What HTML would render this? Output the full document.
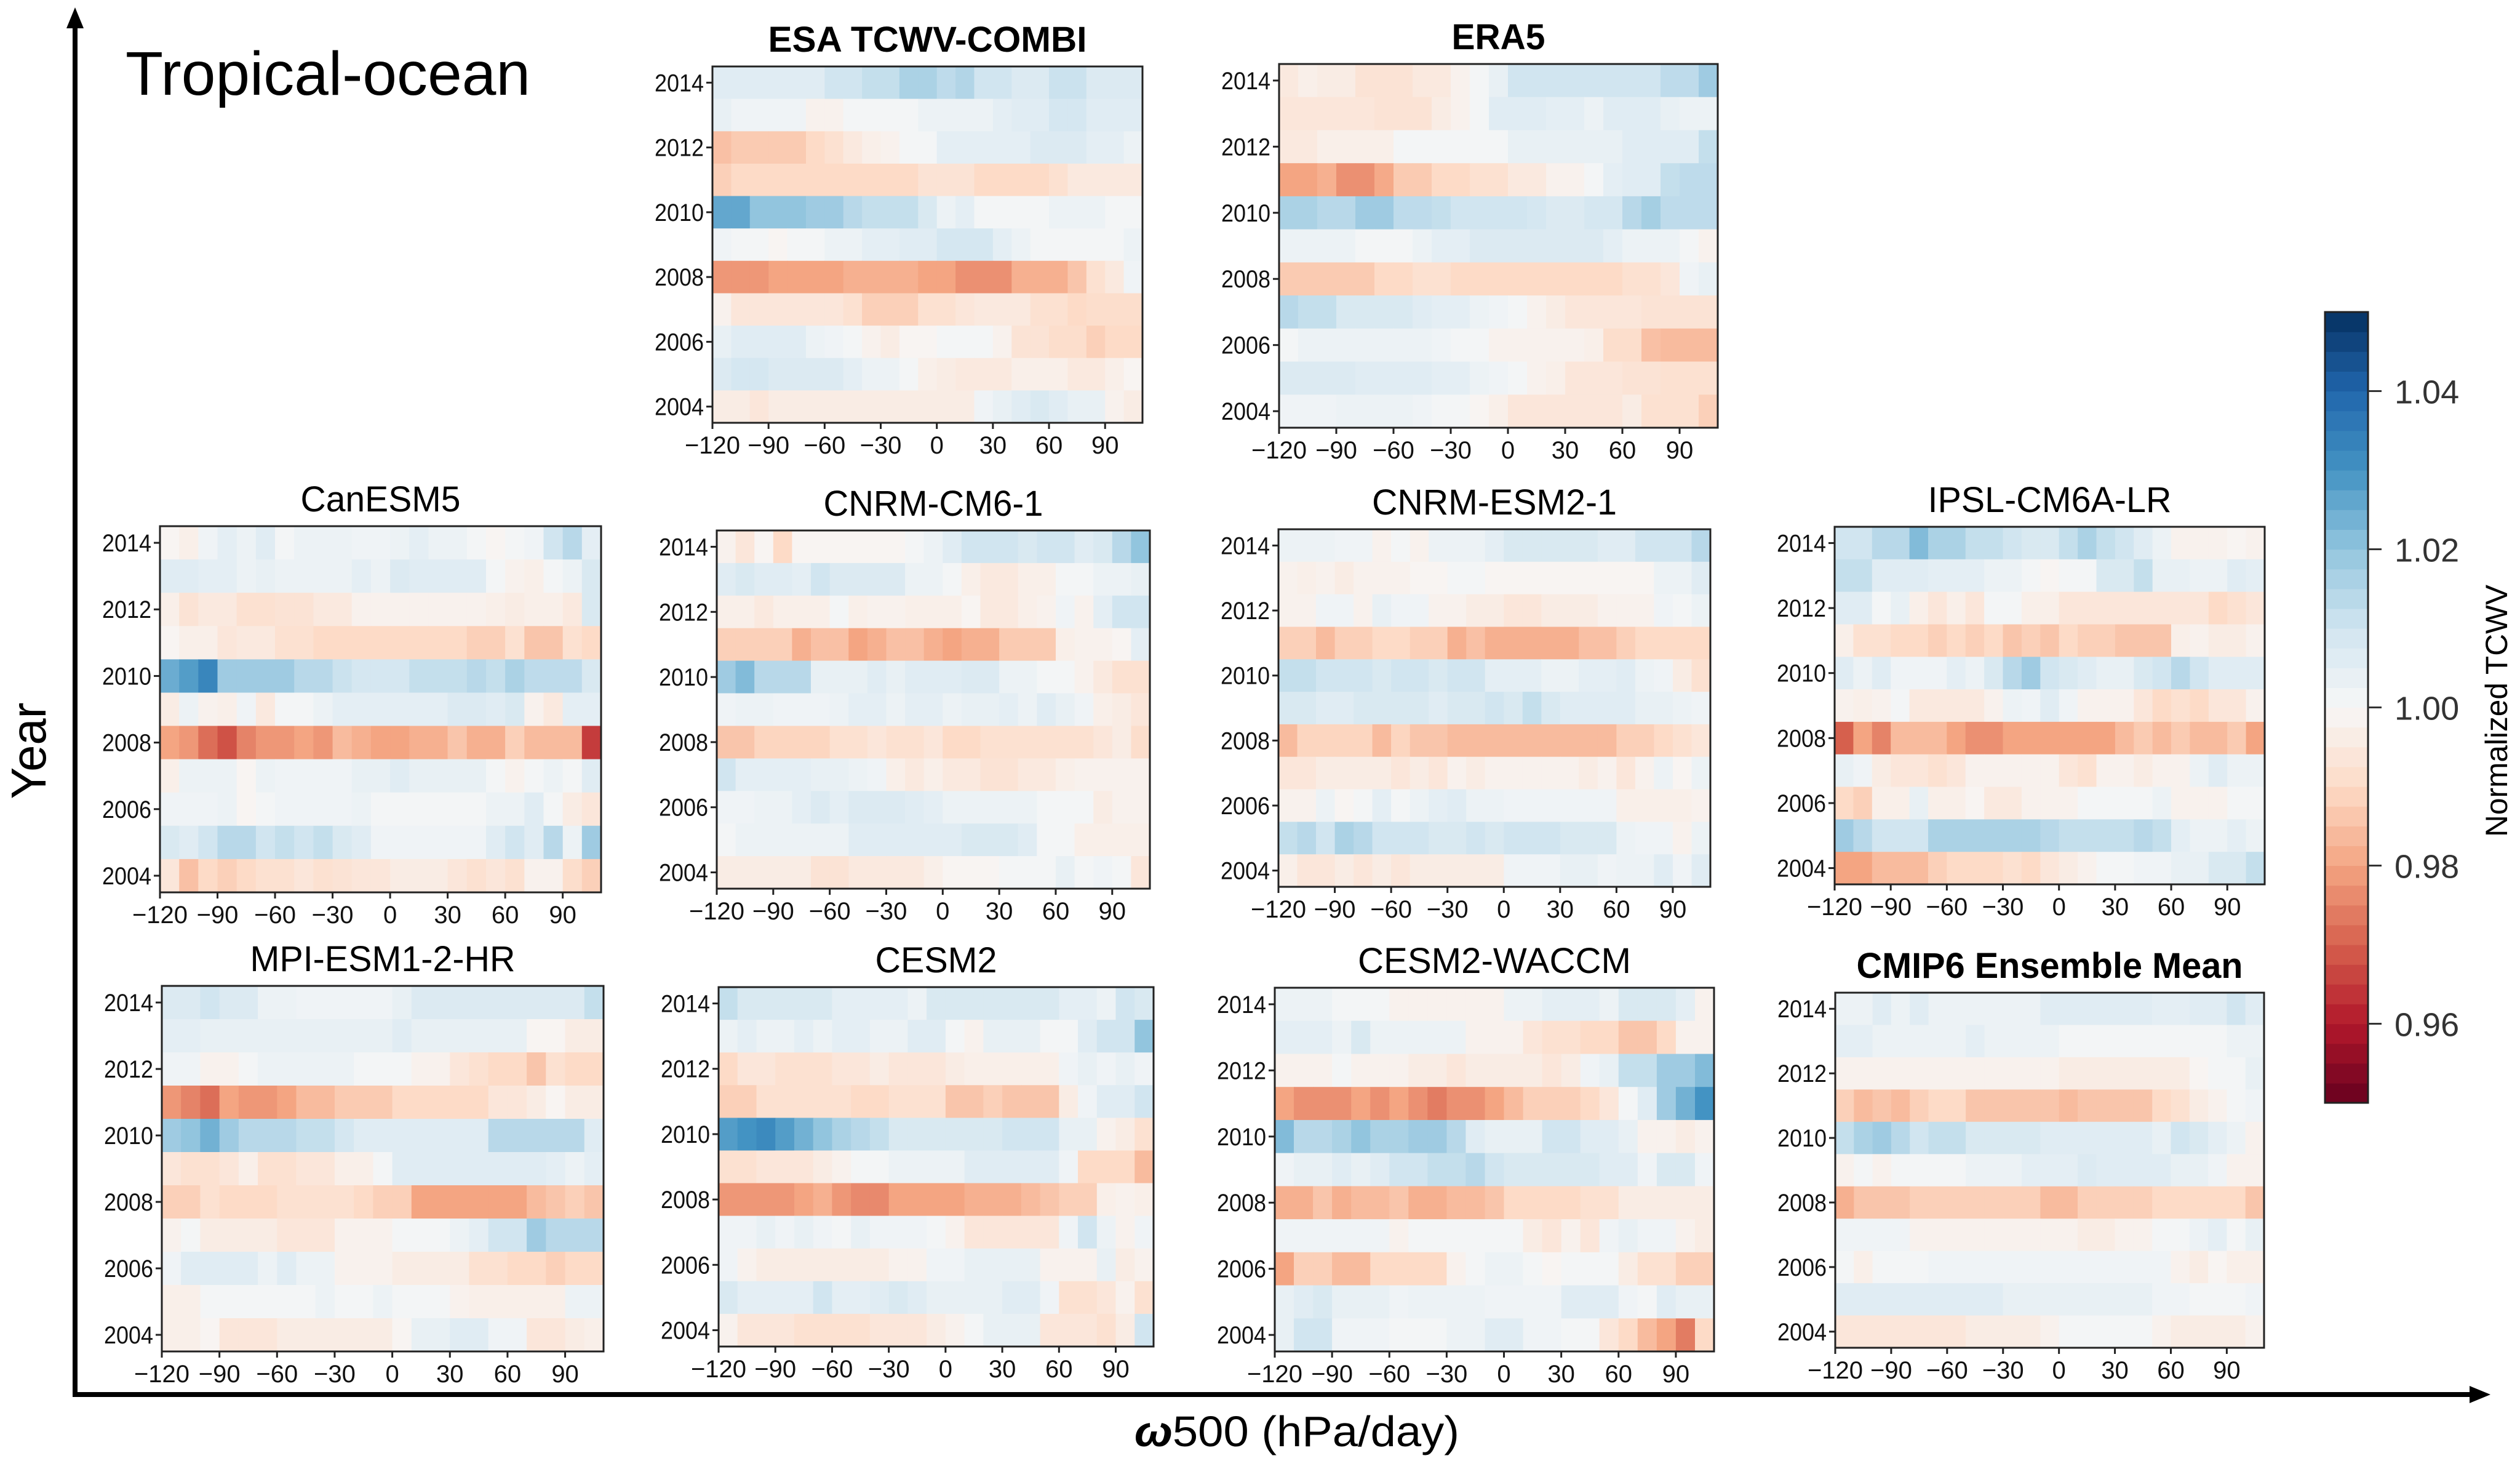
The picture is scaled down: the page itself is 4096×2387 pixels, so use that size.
<!DOCTYPE html>
<html><head><meta charset="utf-8"><style>
html,body{margin:0;padding:0;background:#fff;}
svg{display:block;}
text{font-family:"Liberation Sans",sans-serif;}
</style></head><body>
<svg id="fig" width="4096" height="2387" viewBox="0 0 4096 2387" xmlns="http://www.w3.org/2000/svg">
<rect x="0" y="0" width="4096" height="2387" fill="#fff"/>
<text x="204" y="154" font-size="100" textLength="658" lengthAdjust="spacingAndGlyphs">Tropical-ocean</text>
<line x1="122" y1="2266" x2="122" y2="40" stroke="#000" stroke-width="8"/>
<polygon points="122,12 108,46 136,46" fill="#000"/>
<line x1="118" y1="2266" x2="4020" y2="2266" stroke="#000" stroke-width="8"/>
<polygon points="4048,2266 4014,2252 4014,2280" fill="#000"/>
<text transform="translate(74,1220) rotate(-90)" text-anchor="middle" font-size="80" textLength="157" lengthAdjust="spacingAndGlyphs">Year</text>
<text x="1844" y="2350" font-size="70" textLength="528" lengthAdjust="spacingAndGlyphs"><tspan font-weight="bold" font-style="italic">ω</tspan>500 (hPa/day)</text>
<g id="plots"></g>
<g id="cbar"></g>
</svg>
<script>
const years = [2014,2013,2012,2011,2010,2009,2008,2007,2006,2005,2004];
const omegaBins = [-120,-110,-100,-90,-80,-70,-60,-50,-40,-30,-20,-10,0,10,20,30,40,50,60,70,80,90,100];
const xTicks = [-120,-90,-60,-30,0,30,60,90];
const yTicks = [2014,2012,2010,2008,2006,2004];
const cbarTicks = [1.04,1.02,1.00,0.98,0.96];
// values: (normalized TCWV - 1) * 1000, rows top (2014) to bottom (2004)
const esaValues = [
[6,6,6,6,6,6,10,10,12,12,16,16,13,15,10,10,7,7,11,11,7,7,7],
[4,2,2,2,2,-2,-2,1,1,1,1,3,3,3,3,5,6,6,9,9,6,6,6],
[-15,-13,-13,-13,-13,-10,-8,-5,-3,-2,1,1,5,5,5,5,5,7,7,7,5,5,3],
[-12,-10,-10,-10,-10,-10,-10,-10,-10,-10,-10,-7,-7,-7,-10,-10,-10,-10,-8,-5,-5,-5,-5],
[26,26,20,20,20,18,18,14,12,12,12,8,3,5,1,1,1,1,3,3,3,1,1],
[2,1,1,-1,1,1,3,3,5,5,6,6,9,9,9,5,3,1,1,1,1,1,3],
[-22,-22,-22,-20,-20,-20,-20,-18,-18,-18,-18,-20,-20,-23,-23,-23,-18,-18,-18,-14,-8,-5,2],
[-2,-6,-6,-6,-6,-6,-6,-8,-12,-12,-12,-8,-8,-6,-5,-5,-5,-8,-8,-10,-9,-9,-9],
[4,6,6,6,6,3,2,1,-2,-4,-1,-1,1,1,1,-2,-7,-7,-9,-9,-12,-10,-10],
[7,9,9,7,7,7,7,5,3,3,1,-3,-4,-5,-5,-5,-3,-3,-3,-5,-5,-3,-1],
[-4,-4,-6,-4,-4,-4,-4,-4,-4,-4,-4,-4,-4,-4,2,4,6,8,6,4,4,-2,-4]];
const era5Values = [
[-5,-3,-4,-4,-7,-7,-7,-5,-5,-2,1,4,10,10,10,10,10,10,10,10,13,13,18],
[-6,-6,-6,-6,-6,-7,-7,-7,-4,-2,1,6,6,6,5,5,3,6,6,6,4,3,3],
[-5,-5,-3,-3,-3,-3,1,1,1,1,1,1,4,4,4,4,4,4,6,6,6,6,12],
[-20,-20,-18,-23,-23,-19,-13,-13,-10,-10,-8,-8,-5,-5,-2,-2,1,5,6,6,12,13,13],
[16,16,14,14,18,18,13,13,12,10,10,10,10,9,7,7,9,9,14,17,13,13,13],
[3,3,3,3,1,1,1,3,5,5,7,7,7,7,7,7,7,5,3,3,3,1,-2],
[-13,-13,-13,-13,-13,-10,-10,-8,-8,-10,-10,-10,-10,-10,-10,-10,-10,-10,-8,-8,-6,2,4],
[14,12,12,8,8,8,8,6,5,5,3,2,1,-2,-4,-6,-6,-6,-6,-7,-7,-7,-7],
[1,3,3,3,3,3,3,3,2,1,1,-2,-2,-2,-2,-2,-3,-9,-9,-15,-16,-16,-16],
[7,7,7,7,6,6,6,6,5,5,3,2,1,-2,-3,-6,-6,-6,-7,-7,-8,-8,-8],
[2,2,2,3,3,3,3,2,1,1,-1,-3,-6,-6,-6,-6,-6,-6,-4,-8,-8,-8,-12]];
const canesm5Values = [
[-1,-3,2,5,3,6,1,3,3,3,2,2,3,5,3,3,1,-1,1,2,10,14,5],
[6,6,5,5,3,4,3,3,3,3,5,3,7,6,6,6,6,1,-2,-3,1,3,8],
[-3,-7,-5,-5,-8,-8,-7,-7,-5,-5,-2,-2,-2,-2,-2,-2,-2,-3,-4,-3,-3,-5,8],
[-1,-3,-3,-6,-5,-5,-8,-8,-10,-10,-10,-10,-10,-10,-10,-10,-12,-12,-8,-14,-14,-8,-10],
[25,28,33,18,18,18,18,14,14,11,9,9,9,12,12,12,14,12,16,13,13,13,8],
[-4,3,-2,-3,2,-5,1,1,3,5,5,5,5,5,5,7,7,6,8,-2,-5,5,5],
[-20,-22,-28,-32,-25,-22,-22,-20,-22,-16,-18,-20,-20,-18,-18,-14,-18,-18,-12,-16,-16,-16,-35],
[-3,3,3,3,-1,3,2,2,2,2,4,4,6,4,4,4,4,1,-2,1,3,1,6],
[2,2,2,3,-1,1,2,2,2,2,3,1,1,1,1,1,1,3,3,6,1,-4,-6],
[8,6,10,14,14,10,12,10,12,8,6,2,2,2,2,2,2,6,10,6,14,3,18],
[-6,-15,-10,-12,-10,-8,-8,-6,-8,-7,-6,-6,-4,-4,-4,-6,-8,-6,-8,-2,-2,-9,-12]];
const cnrmcm6Values = [
[-2,-6,-1,-10,-1,-1,-1,-1,-1,-1,1,3,6,10,10,10,8,10,10,6,8,14,20],
[6,8,6,6,5,10,7,7,7,7,3,3,1,-3,-5,-5,-3,-3,1,1,3,3,4],
[-3,-3,-5,-3,-3,-3,1,-3,-2,-2,-3,-3,-3,-1,-5,-5,-3,-2,2,-2,5,10,10],
[-12,-12,-12,-12,-18,-15,-15,-20,-18,-15,-15,-18,-20,-18,-18,-13,-13,-13,-3,-2,-2,-1,5],
[18,22,14,14,14,4,4,4,6,4,6,6,6,7,7,3,3,1,1,-2,-5,-8,-8],
[2,3,3,2,2,2,3,5,5,3,5,5,3,4,4,5,3,6,4,2,-3,-4,-6],
[-14,-14,-11,-11,-11,-11,-8,-8,-6,-8,-8,-6,-10,-10,-8,-8,-8,-8,-8,-8,-6,-4,-9],
[10,5,5,5,5,4,4,3,2,-3,-5,-3,-5,-5,-7,-7,-5,-5,-3,-2,-2,-2,-2],
[2,2,3,3,5,7,5,7,7,7,6,5,3,3,3,3,3,1,1,1,-4,-2,-2],
[1,3,3,3,3,3,3,6,6,6,6,6,6,8,8,8,6,1,1,-3,-3,-3,-3],
[-4,-4,-4,-4,-4,-7,-7,-5,-5,-5,-5,-3,-1,-1,-1,1,1,1,4,1,2,1,-6]];
const cnrmesm2Values = [
[3,3,3,2,2,-2,1,-2,3,3,3,5,8,8,8,8,8,6,6,10,10,10,14],
[-2,-3,-2,-4,-2,-2,-2,-1,-1,1,1,-1,-1,-1,-1,-1,-1,-1,-1,-1,3,3,6],
[-2,-2,2,2,-2,4,2,2,-2,-2,-4,-4,-6,-6,-4,-4,-4,-2,-2,-2,2,1,3],
[-12,-12,-16,-12,-12,-10,-10,-12,-12,-18,-15,-18,-18,-18,-18,-18,-15,-15,-12,-10,-10,-10,-10],
[12,12,10,10,10,8,10,10,8,10,10,5,5,5,3,3,5,5,6,3,2,-4,-8],
[8,8,6,6,8,8,8,8,6,8,8,10,8,12,8,6,6,6,6,4,4,3,2],
[-16,-11,-11,-11,-11,-16,-11,-14,-14,-16,-16,-16,-16,-16,-16,-16,-16,-16,-12,-12,-10,-8,-6],
[-6,-6,-4,-4,-4,-4,-6,-4,-6,-2,-4,-2,-2,-2,-2,-2,-4,-2,-6,-2,3,-1,3],
[-2,-2,3,-1,1,5,1,3,5,6,3,3,2,2,2,2,2,2,-3,-3,-3,-3,-2],
[12,14,10,16,14,10,10,10,8,8,10,8,10,10,10,8,8,8,3,2,2,-2,3],
[-3,-6,-6,-4,-6,-4,-6,-4,-4,-4,-4,-4,2,2,2,4,4,2,3,3,6,2,6]];
const ipslValues = [
[10,10,14,14,22,16,16,12,12,10,8,8,12,16,12,10,6,3,-2,-2,-2,-1,-2],
[12,12,6,6,6,5,5,5,3,3,1,-1,1,1,8,8,12,4,4,3,3,6,5],
[6,6,1,4,-3,-6,-3,-6,1,1,-3,-3,-6,-6,-6,-6,-6,-6,-6,-6,-10,-8,-6],
[-3,-8,-8,-10,-10,-12,-10,-12,-10,-14,-12,-14,-10,-12,-12,-14,-14,-14,-3,-2,-4,-4,-2],
[6,3,6,2,2,2,5,3,8,14,18,10,8,6,4,4,8,10,14,10,6,6,6],
[-2,-3,-2,1,-5,-5,-5,-5,-2,3,2,6,2,-2,-2,-2,-6,-10,-8,-10,-6,-6,-2],
[-30,-20,-25,-16,-16,-16,-20,-23,-23,-20,-20,-20,-20,-20,-20,-16,-13,-16,-13,-16,-16,-13,-20],
[4,2,-4,-6,-6,-8,-6,-2,-2,-2,-2,-2,-6,-8,-2,-2,-4,-2,-2,3,6,3,3],
[-10,-12,-3,-3,4,-3,-3,-1,-5,-5,-2,-2,-2,1,1,1,1,3,-2,-2,-2,1,1],
[18,14,10,10,10,16,16,16,16,16,16,14,12,12,12,12,14,12,5,3,3,5,3],
[-20,-20,-16,-16,-16,-12,-10,-10,-10,-8,-10,-6,-4,-2,1,1,2,2,4,4,8,8,12]];
const mpiValues = [
[7,7,10,7,7,3,3,2,2,2,2,2,4,7,7,7,7,7,7,7,7,7,12],
[5,5,4,4,4,4,4,4,4,4,4,4,6,4,4,4,4,4,4,-1,-1,-4,-4],
[2,2,-2,-2,1,3,3,3,3,3,1,1,1,-2,-2,-6,-8,-10,-10,-14,-8,-10,-10],
[-22,-25,-28,-20,-22,-22,-20,-16,-16,-13,-13,-13,-10,-10,-10,-10,-10,-6,-6,-4,-1,-4,-4],
[18,20,24,18,14,14,14,12,12,9,6,6,6,6,6,6,6,14,14,14,14,14,6],
[-6,-8,-8,-6,-3,-8,-8,-6,-6,-3,-3,1,6,6,6,6,6,6,6,6,5,3,5],
[-12,-12,-8,-10,-10,-10,-8,-8,-8,-8,-10,-12,-12,-20,-20,-20,-20,-20,-20,-16,-14,-12,-14],
[-2,1,-4,-4,-4,-4,-6,-6,-6,-2,-2,-2,1,1,1,3,5,10,10,18,14,14,14],
[2,6,6,6,6,3,6,3,3,-2,-2,-2,-4,-4,-4,-4,-8,-8,-10,-10,-12,-10,-10],
[-3,-3,1,1,1,1,1,1,3,1,1,3,1,1,1,-2,-3,-3,-3,-3,-3,3,3],
[-3,-3,-1,-6,-6,-6,-4,-4,-4,-4,-4,-4,-1,4,4,6,6,2,2,-6,-6,-4,-3]];
const cesm2Values = [
[12,8,8,8,8,8,5,5,5,5,3,8,8,8,8,8,8,8,5,5,3,10,8],
[3,5,3,3,5,3,5,5,3,3,6,6,1,-2,4,4,4,1,1,6,10,10,20],
[-10,-6,-6,-8,-8,-8,-6,-6,-4,-6,-6,-6,-4,-3,-3,-3,-3,-3,2,4,2,4,2],
[-12,-12,-8,-8,-8,-8,-8,-10,-10,-8,-8,-8,-14,-14,-12,-14,-14,-14,-4,2,6,6,10],
[28,30,32,28,24,20,16,14,12,8,8,8,8,8,8,10,10,10,4,4,-2,-4,-8],
[-8,-8,-6,-6,-6,-4,-2,1,1,3,3,3,3,6,6,6,6,6,2,-10,-10,-10,-16],
[-22,-22,-22,-22,-20,-18,-22,-24,-24,-20,-20,-20,-20,-18,-18,-18,-16,-14,-12,-12,-3,-2,-3],
[2,2,4,2,4,2,1,4,2,2,2,1,-2,-6,-6,-6,-6,-6,2,10,3,-2,2],
[2,-2,-4,-4,-4,-4,-4,-4,-4,-2,-2,2,2,4,4,4,4,-2,-2,-2,4,-4,-2],
[8,5,5,5,5,10,5,5,6,8,6,4,4,4,4,6,6,2,-8,-8,-6,-2,-8],
[-2,-6,-6,-6,-8,-8,-8,-8,-6,-6,-6,-4,-2,1,4,4,4,-6,-6,-6,-8,-4,10]];
const wacchmValues = [
[3,3,3,1,1,1,-2,-2,-2,-2,-2,-2,3,3,5,5,5,3,8,8,8,5,-2],
[5,5,5,3,8,3,3,3,3,3,-2,-2,-2,-6,-8,-8,-10,-10,-14,-14,-10,-2,-2],
[-2,-2,-2,1,-2,-2,-2,-4,-4,-6,-4,-4,-4,-4,-6,-4,2,4,12,12,18,18,22],
[-20,-23,-23,-23,-20,-23,-20,-23,-26,-23,-23,-20,-16,-12,-12,-12,-10,-6,1,6,18,24,30],
[22,14,14,16,20,16,16,18,18,14,6,4,4,4,10,10,6,6,4,-2,-2,-4,-2],
[2,4,4,6,4,6,10,10,12,12,14,10,8,8,8,8,8,6,6,2,8,8,2],
[-18,-18,-14,-18,-16,-16,-14,-18,-18,-16,-16,-14,-10,-10,-10,-10,-8,-8,-4,-4,-4,-4,-4],
[2,2,2,2,2,2,-2,1,1,1,1,1,1,-4,-6,-2,-6,2,4,2,2,-2,-4],
[-20,-12,-12,-16,-16,-10,-10,-10,-10,-2,1,3,3,1,-1,1,1,1,-4,-8,-8,-12,-12],
[4,6,8,4,4,4,2,3,3,3,3,2,2,2,2,6,6,6,2,1,6,4,4],
[4,10,10,2,2,2,1,1,1,3,3,6,6,2,2,1,1,-6,-10,-16,-20,-26,-10]];
const ensembleValues = [
[3,3,6,3,6,3,3,3,3,3,3,6,6,6,6,6,6,5,5,6,6,10,6],
[5,5,3,3,3,3,3,5,3,3,3,3,1,1,1,1,1,1,1,1,1,3,3],
[-2,-2,-2,-2,-2,-2,-2,-2,-2,-2,-2,-2,-4,-4,-4,-4,-4,-4,-4,-1,1,1,4],
[-12,-16,-14,-16,-12,-10,-10,-14,-14,-14,-14,-14,-16,-14,-14,-14,-14,-10,-8,-4,-2,1,2],
[12,16,18,14,10,12,12,8,8,8,8,6,6,6,6,6,6,4,10,8,5,3,-2],
[-2,1,-2,1,1,1,1,3,3,3,5,5,5,7,6,6,6,6,4,4,2,-2,-2],
[-18,-14,-14,-14,-12,-12,-12,-12,-12,-12,-12,-16,-16,-12,-12,-12,-12,-10,-10,-10,-10,-10,-14],
[2,2,2,2,-2,-2,-2,-2,-2,-2,-2,-2,-2,-4,-4,-2,-2,1,1,3,5,1,4],
[1,-3,1,1,1,2,2,2,2,2,2,2,2,2,2,2,2,2,-2,-4,-1,-3,-3],
[6,6,6,6,6,6,6,6,6,4,4,4,4,4,4,4,4,2,2,1,1,1,2],
[-6,-6,-6,-6,-6,-6,-6,-4,-4,-4,-4,-2,1,1,1,1,1,-2,-4,-4,-4,-4,-2]];

const NS = "http://www.w3.org/2000/svg";
const panels = [
 {name:"ESA TCWV-COMBI", id:"esa", bold:true, x0:1158,y0:108,x1:1857,y1:687, tw:518, data:esaValues},
 {name:"ERA5", id:"era5", bold:true, x0:2079,y0:104,x1:2792,y1:695, tw:152, data:era5Values},
 {name:"CanESM5", id:"canesm5", bold:false, x0:260,y0:855,x1:977,y1:1450, tw:260, data:canesm5Values},
 {name:"CNRM-CM6-1", id:"cnrm-cm6-1", bold:false, x0:1165,y0:862,x1:1869,y1:1444, tw:357, data:cnrmcm6Values},
 {name:"CNRM-ESM2-1", id:"cnrm-esm2-1", bold:false, x0:2078,y0:860,x1:2780,y1:1441, tw:398, data:cnrmesm2Values},
 {name:"IPSL-CM6A-LR", id:"ipsl-cm6a-lr", bold:false, x0:2982,y0:856,x1:3681,y1:1437, tw:396, data:ipslValues},
 {name:"MPI-ESM1-2-HR", id:"mpi-esm1-2-hr", bold:false, x0:263,y0:1602,x1:981,y1:2196, tw:431, data:mpiValues},
 {name:"CESM2", id:"cesm2", bold:false, x0:1168,y0:1604,x1:1875,y1:2188, tw:198, data:cesm2Values},
 {name:"CESM2-WACCM", id:"cesm2-waccm", bold:false, x0:2072,y0:1605,x1:2786,y1:2196, tw:444, data:wacchmValues},
 {name:"CMIP6 Ensemble Mean", id:"cmip6-ensemble-mean", bold:true, x0:2983,y0:1613,x1:3680,y1:2190, tw:628, data:ensembleValues}
];
const stops = [[103,0,31],[178,24,43],[214,96,77],[244,165,130],[253,219,199],[247,247,247],[209,229,240],[146,197,222],[67,147,195],[33,102,172],[5,48,97]];
function cmap(v){
  let t=(v-0.95)/0.1; t=Math.max(0,Math.min(1,t));
  const p=t*10, i=Math.min(9,Math.floor(p)), f=p-i;
  const a=stops[i], b=stops[i+1];
  return "rgb("+a.map((c,k)=>Math.round(c+(b[k]-c)*f)).join(",")+")";
}
function mk(tag, attrs, parent){
  const e=document.createElementNS(NS,tag);
  for(const k in attrs) e.setAttribute(k, attrs[k]);
  parent.appendChild(e); return e;
}
const plotsG=document.getElementById("plots");
panels.forEach(p=>{
  const g=mk("g",{},plotsG);
  
  
  const W=p.x1-p.x0, H=p.y1-p.y0;
  const xs=v=>p.x0+(v+120)/230*W;
  const ys=yr=>p.y0+(2014-yr)/11*H;
  const rh=H/11;
  p.data.forEach((row,ri)=>{
    row.forEach((d,ci)=>{
      const x=xs(omegaBins[ci]), y=ys(years[ri]);
      const r=mk("rect",{x:x.toFixed(1),y:y.toFixed(1),width:(W/23+0.6).toFixed(1),height:(rh+0.6).toFixed(1),fill:cmap(1+d/1000)},g);
      
      
    });
  });
  const fr=mk("rect",{x:p.x0,y:p.y0,width:W,height:H,fill:"none",stroke:"#222","stroke-width":3},g);
  
  
  const t=mk("text",{x:(p.x0+p.x1)/2,y:p.y0-24,"text-anchor":"middle","font-size":58,"font-weight":p.bold?"bold":"normal",textLength:p.tw,lengthAdjust:"spacingAndGlyphs"},g);
  t.textContent=p.name;
  
  
  yTicks.forEach(yr=>{
    const y=ys(yr)+rh/2;
    const tk=mk("line",{x1:p.x0-10,y1:y,x2:p.x0,y2:y,stroke:"#222","stroke-width":3},g);
    
    
    const lb=mk("text",{x:p.x0-14,y:y+14,"text-anchor":"end","font-size":40,fill:"#111",textLength:80,lengthAdjust:"spacingAndGlyphs"},g);
    lb.textContent=String(yr);
    
    
  });
  xTicks.forEach(v=>{
    const x=xs(v);
    const tk=mk("line",{x1:x,y1:p.y1,x2:x,y2:p.y1+10,stroke:"#222","stroke-width":3},g);
    
    
    const s=v<0?"\u2212"+Math.abs(v):String(v);
    const lb=mk("text",{x:x,y:p.y1+50,"text-anchor":"middle","font-size":40,fill:"#111"},g);
    lb.textContent=s;
    
    
  });
});
// colorbar
const cb=document.getElementById("cbar");


const cx0=3779, cx1=3849, cy0=507, cy1=1792, nb=40;
const cys=v=>cy1-(v-0.95)/0.1*(cy1-cy0);
for(let i=0;i<nb;i++){
  const v=0.95+(i+0.5)*0.1/nb;
  const r=mk("rect",{x:cx0,y:(cys(0.95+(i+1)*0.1/nb)).toFixed(1),width:cx1-cx0,height:((cy1-cy0)/nb+0.6).toFixed(1),fill:cmap(v)},cb);
  
  
}
const cf=mk("rect",{x:cx0,y:cy0,width:cx1-cx0,height:cy1-cy0,fill:"none",stroke:"#222","stroke-width":3},cb);


cbarTicks.forEach(v=>{
  const y=cys(v);
  const tk=mk("line",{x1:cx1,y1:y,x2:cx1+22,y2:y,stroke:"#333","stroke-width":3},cb);
  
  
  const lb=mk("text",{x:3892,y:y+20,"font-size":54,fill:"#333","font-family":"DejaVu Sans, sans-serif"},cb);
  lb.textContent=v.toFixed(2);
  
  
});
const cl=mk("text",{transform:"translate(4075,1155) rotate(-90)","text-anchor":"middle","font-size":50,textLength:410,lengthAdjust:"spacingAndGlyphs"},cb);
cl.textContent="Normalized TCWV";


</script>
</body></html>
